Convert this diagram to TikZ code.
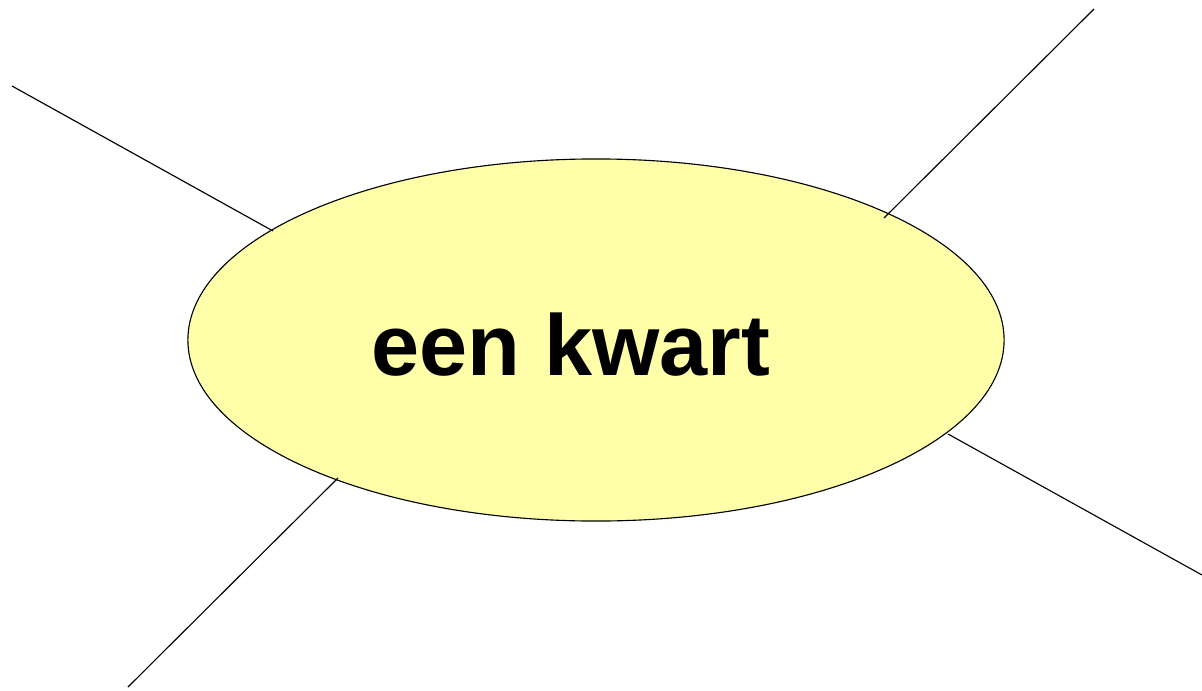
\documentclass[tikz,border=0pt]{standalone}
\usepackage{fontspec}
\setmainfont{Liberation Sans}
\usetikzlibrary{shapes.geometric}
\definecolor{lightyel}{RGB}{255,255,170}
\tikzset{
  blob/.style={ellipse, draw=black, line width=0.8pt, fill=lightyel, minimum width=20.4cm, minimum height=9.05cm, inner sep=0pt},
  ray/.style={draw=black, line width=0.8pt},
  lbl/.style={font=\fontsize{61.5}{72}\selectfont\bfseries, inner sep=0pt}
}
\begin{document}
\begin{tikzpicture}[x=0.025cm,y=-0.025cm]
\useasboundingbox (0,0) rectangle (1202,690);
\node[blob] (e) at (596,340) {};
\node[lbl, anchor=base] (t) at (571,375) {een kwart};
\coordinate (a1) at (12,86);   \coordinate (a2) at (273,231);
\coordinate (b1) at (1094,9);  \coordinate (b2) at (884,218);
\coordinate (c1) at (1202,575); \coordinate (c2) at (948,434);
\coordinate (d1) at (128,687); \coordinate (d2) at (338,478);
\draw[ray] (a1) -- (a2);
\draw[ray] (b1) -- (b2);
\draw[ray] (c1) -- (c2);
\draw[ray] (d1) -- (d2);
\end{tikzpicture}
\end{document}
